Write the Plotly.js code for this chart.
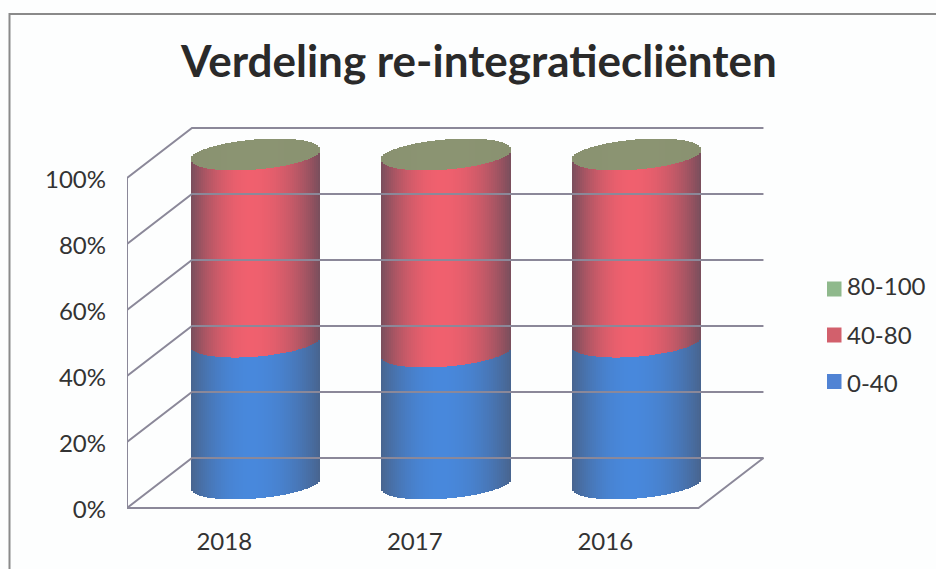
<!DOCTYPE html>
<html>
<head>
<meta charset="utf-8">
<script src="https://cdn.plot.ly/plotly-3.0.1.min.js"></script>
<style>html,body{margin:0;padding:0;background:#fdfefe}</style>
</head>
<body>
<div id="chart" style="width:936px;height:569px"></div>
<script>
// ---- data ----
var years = ["2018", "2017", "2016"];
var low = [43, 40, 43];       // 0-40
var mid = [56.7, 59.7, 56.7]; // 40-80
var high = [0.3, 0.3, 0.3];   // 80-100
var pctTicks = [0, 20, 40, 60, 80, 100];
var pctLabels = ["0%", "20%", "40%", "60%", "80%", "100%"];
var seriesNames = ["0-40", "40-80", "80-100"];
var legendColors = ["#5083d4", "#d2606c", "#8fb98c"];

// ---- drawing parameters ----
var L = 127, R = 790, T = 100, B = 525, pxY = 3.3, pxX = 190.5;
var xOf = function (p) { return (p - 222.25) / pxX; };
var yOf = function (p) { return (508 - p) / pxY; };
var depthX = 0.341, depthY = 15.15;       // back wall offset
var midX = 0.1745, midY = 7.27;           // cylinder axis offset
var halfW = 64.8 / pxX, stripW = 2 / pxX;
var tilt = 5 / pxY, bow = 14.6 / pxY;
var lineColor = "#8b8899";

function mix(a, b, f) {
  return "rgb(" + a.map(function (v, i) { return Math.round(v + (b[i] - v) * f); }).join(",") + ")";
}
function light(u) {
  var d = u + 0.08;
  var s = d < 0 ? Math.abs(d) / 0.92 : d / 1.08;
  return 1 - Math.pow(s, 2);
}
var uList = [];
for (var k = 0; k < 65; k++) uList.push(-1 + (2 * k + 1) / 65);

function edge(v, u, sign) {
  return v + midY + tilt * u + sign * bow * Math.sqrt(1 - u * u);
}
function cylinderTrace(lower, upper, edgeCol, coreCol, backTop) {
  var xs = [], bases = [], hs = [], cols = [];
  years.forEach(function (_, i) {
    uList.forEach(function (u) {
      xs.push(i + midX + u * halfW);
      var y0 = edge(lower[i], u, -1);
      var y1 = edge(upper[i], u, backTop ? 1 : -1);
      bases.push(y0);
      hs.push(y1 - y0);
      cols.push(mix(edgeCol, coreCol, light(u)));
    });
  });
  return {
    type: "bar", x: xs, y: hs, base: bases, width: stripW, showlegend: false,
    hoverinfo: "skip", marker: { color: cols, line: { width: 0 } }
  };
}
function add(a, b) { return a.map(function (v, i) { return v + b[i]; }); }
var zero = years.map(function () { return 0; });
var top1 = low, top2 = add(low, mid), top3 = add(top2, high);

var traces = [];
function seg(xs, ys) {
  traces.push({ type: "scatter", mode: "lines", x: xs, y: ys, showlegend: false, hoverinfo: "skip",
    line: { color: lineColor, width: 2 } });
}
var x0 = -0.5, xEnd = 2.5;
pctTicks.forEach(function (v) {
  if (v > 0) seg([x0, x0 + depthX, xEnd + depthX], [v, v + depthY, v + depthY]);
});
seg([x0, x0], [0, 100]);
seg([x0, xEnd, xEnd + depthX, x0 + depthX, x0], [0, 0, depthY, depthY, 0]);

traces.push(cylinderTrace(zero, top1, [72, 100, 142], [72, 136, 220], false));
traces.push(cylinderTrace(top1, top2, [120, 78, 92], [240, 96, 110], false));
traces.push(cylinderTrace(top2, top3, [137, 145, 112], [139, 148, 114], true));

// legend entries: text from the legend, swatches placed beside it as shapes
[2, 1, 0].forEach(function (i) {
  traces.push({ type: "scatter", mode: "markers", x: [null], y: [null], name: seriesNames[i],
    legendgroup: seriesNames[i], hoverinfo: "skip",
    marker: { symbol: "square", size: 14, color: "rgba(0,0,0,0)" } });
});

var W = R - L, H = B - T;
function px(p) { return (p - L) / W; }
function py(p) { return (B - p) / H; }
var swatchY = [381.5, 335, 289];
var shapes = [{ type: "path", xref: "paper", yref: "paper",
  path: "M " + px(9.5) + " " + py(569) + " L " + px(9.5) + " " + py(14) + " L " + px(936) + " " + py(14),
  line: { color: "#8a8a8a", width: 2 } }];
legendColors.forEach(function (c, i) {
  shapes.push({ type: "rect", xref: "paper", yref: "paper", x0: px(827), x1: px(841.5),
    y0: py(swatchY[i] - 7.5), y1: py(swatchY[i] + 7.5), fillcolor: c, line: { width: 0 } });
});
var font = "Lato, Carlito, 'Open Sans', sans-serif";
var layout = {
  width: 936, height: 569,
  margin: { l: L, r: 936 - R, t: T, b: 569 - B, autoexpand: false },
  paper_bgcolor: "#fdfefe", plot_bgcolor: "rgba(0,0,0,0)",
  barmode: "overlay", bargap: 0,
  font: { family: font, size: 24, color: "#333333" },
  title: { text: "Verdeling re-integratiecliënten", x: 479 / 936, xanchor: "center", xref: "container",
    y: 1 - 62 / 569, yanchor: "middle", yref: "container",
    font: { family: font, size: 44, weight: 700, color: "#2a2a2a" } },
  xaxis: { range: [xOf(L), xOf(R)], tickmode: "array", tickvals: [0, 1, 2], ticktext: years,
    showgrid: false, zeroline: false, showline: false, ticks: "", ticklabelstandoff: 0, ticklabelshift: 2,
    tickfont: { size: 24, color: "#333333" } },
  yaxis: { range: [yOf(B), yOf(T)], tickmode: "array", tickvals: pctTicks, ticktext: pctLabels,
    showgrid: false, zeroline: false, showline: false, ticks: "", ticklabelstandoff: 20, ticklabelshift: 2,
    tickfont: { size: 24, color: "#333333" } },
  legend: { x: px(807), y: py(264), xanchor: "left", yanchor: "top", traceorder: "grouped",
    tracegroupgap: 14, itemwidth: 30, bgcolor: "rgba(0,0,0,0)", font: { size: 24, color: "#333333" } },
  shapes: shapes
};
Plotly.newPlot("chart", traces, layout, { displayModeBar: false, staticPlot: true });
</script>
</body>
</html>
